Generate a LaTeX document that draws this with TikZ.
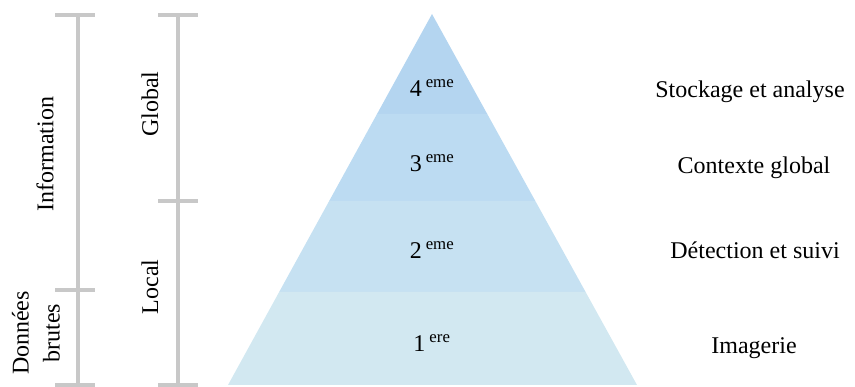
\documentclass[tikz,border=0pt]{standalone}
\usepackage{fontspec}
\setmainfont{Liberation Serif}
\usetikzlibrary{calc}
\definecolor{LayerFour}{HTML}{B4D5F0}
\definecolor{LayerThree}{HTML}{BCDBF2}
\definecolor{LayerTwo}{HTML}{C6E1F2}
\definecolor{LayerOne}{HTML}{D2E8F1}
\definecolor{BarGray}{HTML}{C8C8C8}

\begin{document}
\begin{tikzpicture}[
  x=1pt, y=-1pt,
  bar/.style={BarGray, line width=4pt},
  txt/.style={font=\fontsize{24}{31}\selectfont, inner sep=0pt, text=black}
]
\useasboundingbox (0,0) rectangle (855,387);

% === Pyramid layers ===
\coordinate (apex) at (432,14);
\coordinate (baseL) at (228,385);
\coordinate (baseR) at (637,385);

\foreach \ta/\tb/\col in {
  0/0.2695/LayerFour,
  0.2695/0.504/LayerThree,
  0.504/0.749/LayerTwo,
  0.749/1/LayerOne%
}{
  \fill[\col] ($(apex)!\ta!(baseL)$) -- ($(apex)!\tb!(baseL)$)
    -- ($(apex)!\tb!(baseR)$) -- ($(apex)!\ta!(baseR)$) -- cycle;
}

% Layer numbers
\node[txt] (lvlFour)  at (432,88)  {4\,\textsuperscript{eme}};
\node[txt] (lvlThree) at (432,163) {3\,\textsuperscript{eme}};
\node[txt] (lvlTwo)   at (432,250) {2\,\textsuperscript{eme}};
\node[txt] (lvlOne)   at (432,343) {1\,\textsuperscript{ere}};

% === Layer descriptions on the right ===
\node[txt] (descFour)  at (750,92)  {Stockage et analyse};
\node[txt] (descThree) at (754,168) {Contexte global};
\node[txt] (descTwo)   at (755,250) {Détection et suivi};
\node[txt] (descOne)   at (754,348) {Imagerie};

% === Scale bars on the left ===
\draw[bar] (78,15) -- (78,387);
\foreach \y in {15,290,385}
  \draw[bar] (55,\y) -- (95,\y);

\draw[bar] (178,15) -- (178,387);
\foreach \y in {15,201,385}
  \draw[bar] (158,\y) -- (198,\y);

% Bar labels
\node[txt, rotate=90] (info)   at (45,154)  {Information};
\node[txt, rotate=90, align=center] (raw) at (36,333) {Données\\brutes};
\node[txt, rotate=90] (global) at (150,104) {Global};
\node[txt, rotate=90] (local)  at (150,287) {Local};

\end{tikzpicture}
\end{document}
